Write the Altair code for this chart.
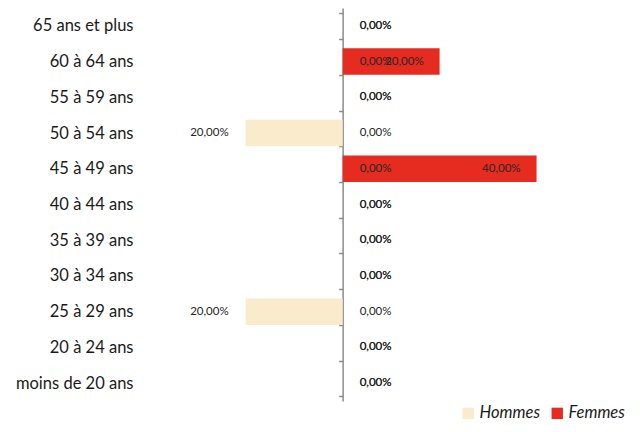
import altair as alt
import pandas as pd

categories = ["65 ans et plus", "60 à 64 ans", "55 à 59 ans", "50 à 54 ans", "45 à 49 ans",
              "40 à 44 ans", "35 à 39 ans", "30 à 34 ans", "25 à 29 ans", "20 à 24 ans",
              "moins de 20 ans"]
hommes = [0, 0, 0, 20, 0, 0, 0, 0, 20, 0, 0]
femmes = [0, 20, 0, 0, 40, 0, 0, 0, 0, 0, 0]
series = ["Hommes", "Femmes"]
colors = ["#FAEBCC", "#E62C21"]

rows = []
for c, h, f in zip(categories, hommes, femmes):
    rows.append({"age": c, "sexe": "Hommes", "pct": h, "x": -h})
    rows.append({"age": c, "sexe": "Femmes", "pct": f, "x": f})
df = pd.DataFrame(rows)
df["label"] = df["pct"].map(lambda v: f"{v:.2f}%".replace(".", ","))

W, H = 480, 393
domain = [-42, 57]
zero_px = (0 - domain[0]) / (domain[1] - domain[0]) * W

y = alt.Y("age:N", sort=categories,
          scale=alt.Scale(paddingInner=0.26, paddingOuter=0.13),
          axis=alt.Axis(title=None, domainColor="#8C8C8C", domainWidth=1.5,
                        tickColor="#8C8C8C", tickWidth=1.5, tickSize=4,
                        tickBand="extent", offset=-zero_px, labelPadding=zero_px + 2,
                        labelFont="Lato", labelFontSize=16.5, labelColor="#1a1a1a",
                        labelLimit=0, grid=False))
x = alt.X("x:Q", scale=alt.Scale(domain=domain, nice=False), axis=None)

base = alt.Chart(df)

bars = base.mark_bar().encode(
    x=x, y=y,
    color=alt.Color("sexe:N", scale=alt.Scale(domain=series, range=colors),
                    legend=alt.Legend(orient="none", legendX=321, legendY=H + 4,
                                      direction="horizontal", title=None,
                                      symbolType="square", symbolSize=130,
                                      symbolStrokeWidth=0, labelFontStyle="italic",
                                      labelFont="Lato", labelFontSize=16.5,
                                      labelColor="#1a1a1a", columnPadding=9,
                                      labelOffset=3)),
)

tfont = dict(font="Lato", fontSize=11.5, color="#262626", baseline="middle")

zero_lbl = base.transform_filter("datum.pct == 0").mark_text(
    align="left", dx=17, **tfont).encode(x=x, y=y, text="label:N")
men_lbl = base.transform_filter("datum.pct > 0 && datum.sexe == 'Hommes'").mark_text(
    align="right", dx=-17, **tfont).encode(x=x, y=y, text="label:N")
women_lbl = base.transform_filter("datum.pct > 0 && datum.sexe == 'Femmes'").mark_text(
    align="right", dx=-16, **tfont).encode(x=x, y=y, text="label:N")

chart = alt.layer(bars, zero_lbl, men_lbl, women_lbl).properties(
    width=W, height=H,
    autosize=alt.AutoSizeParams(type="none"),
    padding={"left": 131, "top": 0, "right": 13, "bottom": 22},
).configure_view(stroke=None)

chart.save("out.html", embed_options={"renderer": "svg", "actions": False})
